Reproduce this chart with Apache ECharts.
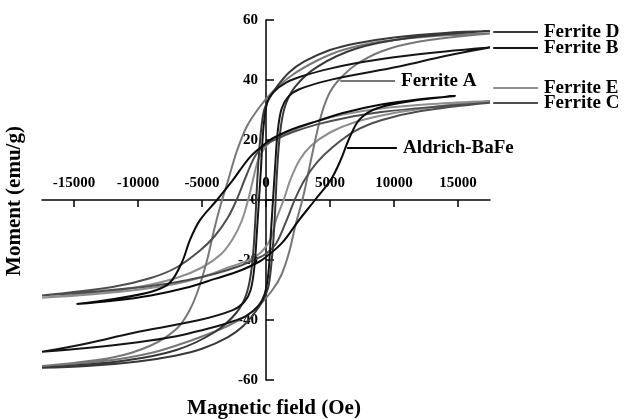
<!DOCTYPE html>
<html>
<head>
<meta charset="utf-8">
<script src="https://cdn.jsdelivr.net/npm/echarts@6/dist/echarts.min.js"></script>
<style>html,body{margin:0;padding:0;background:#fff;}#c{width:625px;height:419px;}</style>
</head>
<body>
<div id="c"></div>
<script>
// ---- Data ----
const fieldTicks = [-15000, -10000, -5000, 0, 5000, 10000, 15000];
const momentTicks = [-60, -40, -20, 0, 20, 40, 60];
const seriesNames = ['Ferrite E', 'Ferrite A', 'Ferrite C', 'Ferrite D', 'Ferrite B', 'Aldrich-BaFe'];

const ferriteD = [[17500,56.3],[14000,55.7],[10000,54.2],[7000,52.2],[5000,50],[3000,46.2],[1800,42.5],[800,37.5],[200,33.5],[-200,29],[-500,18],[-700,5],[-850,-8],[-1100,-22],[-1500,-31],[-2300,-37.5],[-4000,-44],[-7000,-50],[-11000,-53.5],[-17500,-55.9],
  [-14000,-55.3],[-10000,-53.8],[-7000,-51.8],[-5000,-49.6],[-3000,-45.8],[-1800,-42.1],[-800,-37.1],[-200,-33.1],[200,-28.6],[500,-17.6],[700,-4.6],[850,8.4],[1100,22.4],[1500,31.4],[2300,37.9],[4000,44.4],[7000,50.4],[11000,53.9],[17500,56.3]];

const ferriteB = [[17500,50.8],[14000,49.5],[10000,47.6],[7000,45.6],[5000,43.8],[3000,41.5],[1600,39.2],[600,36],[100,32.5],[-200,24],[-400,10],[-550,0],[-700,-10],[-900,-22],[-1200,-30],[-1700,-34],[-2600,-36.7],[-5200,-40],[-10400,-44.3],[-14000,-47.8],[-17500,-50.6],
  [-14000,-49.3],[-10000,-47.4],[-7000,-45.4],[-5000,-43.4],[-3000,-41],[-1600,-38.8],[-600,-35.3],[-100,-31.3],[200,-23.8],[400,-9.8],[550,0.2],[700,10.2],[900,22.2],[1200,30.2],[1700,34.2],[2600,36.9],[5200,40.2],[10400,44.5],[14000,48],[17500,50.8]];

const ferriteA = [[17500,55.5],[13000,54.6],[9000,52.8],[6000,50],[4000,46.5],[2000,41.5],[500,36],[-500,31],[-1500,24.5],[-2300,16],[-3000,6],[-3500,-1],[-4000,-9],[-4600,-20],[-5300,-30],[-6000,-37],[-7000,-43],[-9000,-48.5],[-12000,-52.5],[-17500,-55.3],
  [-12000,-53.3],[-9000,-51],[-7000,-48.5],[-5000,-45.5],[-3000,-42],[-1500,-38.5],[-500,-35],[500,-30],[1200,-25],[1800,-17.5],[2300,-8.5],[2900,1],[3400,11],[3900,21],[4400,29.5],[5000,36],[5800,40.5],[7000,45],[9000,49.5],[12000,52.8],[17500,55.5]];

const ferriteE = [[17500,33],[13000,32],[9000,30.5],[6000,28.5],[4000,26.3],[2000,23],[800,20.5],[0,18],[-600,13.5],[-1000,7],[-1400,0],[-1900,-7],[-2600,-13],[-3500,-18],[-5000,-22.5],[-7000,-26],[-10000,-29],[-13500,-31],[-17500,-32.6],
  [-13500,-31.4],[-10000,-29.9],[-7000,-27.9],[-5000,-25.7],[-3000,-22.6],[-1500,-20.3],[-500,-17.8],[300,-13.5],[800,-6.5],[1400,0.3],[1900,6.7],[2600,13.2],[3500,18],[5000,22.5],[7000,26],[10000,29],[13500,31.2],[17500,33]];

const ferriteC = [[17500,32.4],[13000,31],[9000,29.3],[6000,27.2],[4000,25.2],[2000,22.5],[800,20.3],[0,18.5],[-800,15],[-1500,8.5],[-2300,0],[-3000,-6],[-4000,-12],[-5200,-17],[-7000,-22.5],[-9000,-26],[-12000,-29],[-17500,-31.8],
  [-13000,-30.4],[-9000,-28.7],[-6000,-26.6],[-4000,-24.6],[-2000,-21.9],[-800,-19.7],[0,-17.9],[800,-14.4],[1500,-7.9],[2300,0.6],[3000,6.6],[4000,12.6],[5200,17.6],[7000,23.1],[9000,26.6],[12000,29.6],[17500,32.4]];

const aldrichBaFe = [[14800,34.7],[12000,33.6],[9000,31.8],[6000,29],[4000,26.3],[2000,23.5],[500,20.5],[0,19],[-1250,14.3],[-2580,6.7],[-3830,0],[-5160,-6.7],[-5940,-13.3],[-6560,-20.7],[-7500,-27.5],[-8830,-30.4],[-12000,-33.1],[-14800,-34.7],
  [-12000,-33.6],[-9000,-31.8],[-6000,-29],[-4000,-26.3],[-2000,-23.5],[-500,-20.5],[0,-19],[1250,-14.3],[2580,-6.7],[3830,0],[5100,7],[5850,13.5],[6450,20],[7300,26.8],[8700,30.6],[12000,33.4],[14800,34.7]];

// ---- Styles / layout ----
const loops = [ferriteE, ferriteA, ferriteC, ferriteD, ferriteB, aldrichBaFe];
const colors = ['#8e8e8e', '#777777', '#4e4e4e', '#383838', '#151515', '#0a0a0a'];
const FONT = 'Liberation Serif';

// label anchors (data coords): [lineStartX, lineEndX, y]
const labelAnchors = {
  'Ferrite D': [17750, 21250, 56],
  'Ferrite B': [17750, 21250, 50.7],
  'Ferrite E': [17750, 21250, 37.3],
  'Ferrite C': [17750, 21250, 32.3],
  'Ferrite A': [5800, 10080, 39.7],
  'Aldrich-BaFe': [6330, 10230, 17.3]
};

const chart = echarts.init(document.getElementById('c'), null, {renderer: 'canvas'});

const series = loops.map((d, i) => ({
  name: seriesNames[i],
  type: 'line',
  xAxisIndex: 0, yAxisIndex: 0,
  data: d,
  smooth: 0.35,
  showSymbol: false,
  symbol: 'none',
  clip: false,
  lineStyle: {color: colors[i], width: 2},
  z: 3
}));

const labelStyle = {fontFamily: FONT, fontWeight: 'bold', fontSize: 15, color: '#000'};
const axisLineStyle = {color: '#000', width: 1.5};

chart.setOption({
  animation: false,
  backgroundColor: '#fff',
  grid: [
    {left: 42, right: 135, top: 20, bottom: 39},   // data grid
    {left: 42, right: 135, top: 20, bottom: 219},  // x axis sits on y = 0
    {left: 266, right: 135, top: 20, bottom: 39}   // y axis sits on x = 0
  ],
  xAxis: [
    {gridIndex: 0, type: 'value', min: -17500, max: 17500, show: false},
    {
      gridIndex: 1, type: 'value', min: -17500, max: 17500, position: 'bottom',
      splitLine: {show: false},
      axisLine: {show: true, onZero: false, lineStyle: axisLineStyle},
      axisTick: {show: true, customValues: fieldTicks, length: 7, lineStyle: axisLineStyle},
      axisLabel: Object.assign({customValues: fieldTicks, inside: true, margin: 9, formatter: v => String(v)}, labelStyle)
    },
    {gridIndex: 2, type: 'value', min: 0, max: 1, show: false}
  ],
  yAxis: [
    {gridIndex: 0, type: 'value', min: -60, max: 60, show: false},
    {gridIndex: 1, type: 'value', min: 0, max: 1, show: false},
    {
      gridIndex: 2, type: 'value', min: -60, max: 60, interval: 20, position: 'left',
      splitLine: {show: false},
      axisLine: {show: true, onZero: false, lineStyle: axisLineStyle},
      axisTick: {show: true, inside: true, length: 8, lineStyle: axisLineStyle},
      axisLabel: Object.assign({margin: 8, customValues: momentTicks, formatter: v => String(v)}, labelStyle)
    }
  ],
  series: series
});

// ---- annotations: axis titles, series labels with leader lines ----
const graphics = [
  {type: 'text', x: 274, y: 409, style: {text: 'Magnetic field (Oe)', fontFamily: FONT, fontWeight: 'bold', fontSize: 21, fill: '#000', align: 'center', verticalAlign: 'middle'}},
  {type: 'text', x: 15, y: 201, rotation: Math.PI / 2, style: {text: 'Moment (emu/g)', fontFamily: FONT, fontWeight: 'bold', fontSize: 21, fill: '#000', align: 'center', verticalAlign: 'middle'}}
];
seriesNames.forEach((name, i) => {
  const a = labelAnchors[name];
  const p1 = chart.convertToPixel({xAxisIndex: 0, yAxisIndex: 0}, [a[0], a[2]]);
  const p2 = chart.convertToPixel({xAxisIndex: 0, yAxisIndex: 0}, [a[1], a[2]]);
  graphics.push({type: 'line', shape: {x1: p1[0], y1: p1[1], x2: p2[0], y2: p2[1]}, style: {stroke: colors[i], lineWidth: 2}, z: 10});
  graphics.push({type: 'text', x: p2[0] + 6, y: p2[1], style: {text: name, fontFamily: FONT, fontWeight: 'bold', fontSize: 19, fill: '#000', align: 'left', verticalAlign: 'middle'}, z: 10});
});
chart.setOption({graphic: graphics});
</script>
</body>
</html>
